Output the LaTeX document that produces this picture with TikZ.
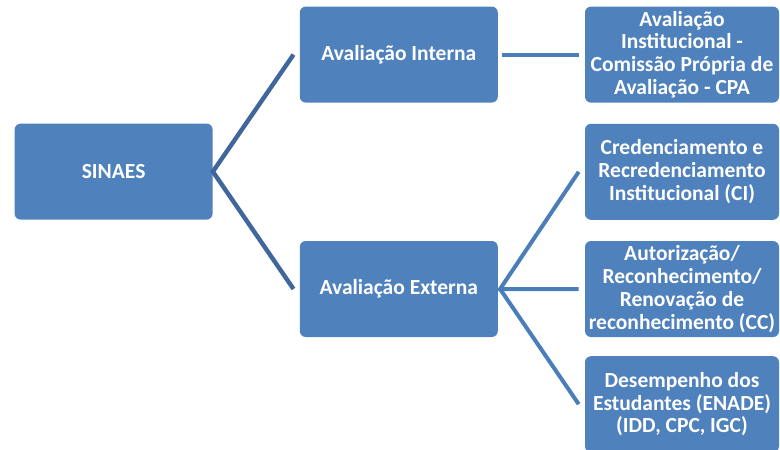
\documentclass[tikz,border=0pt]{standalone}
\usepackage{fontspec}
\setmainfont{Carlito}
\usetikzlibrary{arrows}
\definecolor{boxblue}{HTML}{4F81BD}
\definecolor{trunkblue}{HTML}{3F679B}
\definecolor{branchblue}{HTML}{4A7EBB}
\tikzstyle{mainbox} = [rectangle, rounded corners=0.15cm, minimum width=4.95cm, minimum height=2.4cm, text centered, align=center, fill=boxblue, text=white, inner sep=0pt, font=\bfseries\fontsize{15.3}{16.2}\selectfont]
\tikzstyle{leafbox} = [mainbox, minimum width=4.85cm]
\tikzstyle{trunk} = [line width=0.11cm, draw=trunkblue]
\tikzstyle{branch} = [line width=0.1cm, draw=branchblue]
\begin{document}
\begin{tikzpicture}[node distance=2.93cm]
\useasboundingbox (0,0) rectangle (19.5,-11.25);

\node [mainbox] (sinaes) at (2.84,-4.29) {SINAES};
\node [mainbox, right of=sinaes, xshift=4.2cm, yshift=2.925cm] (interna) {Avaliação Interna};
\node [mainbox, below of=interna, yshift=-2.93cm] (externa) {Avaliação Externa};
\node [leafbox, right of=interna, xshift=4.15cm] (cpa) {Avaliação\\Institucional -\\Comissão Própria de\\Avaliação - CPA};
\node [leafbox, below of=cpa] (ci) {Credenciamento e\\Recredenciamento\\Institucional (CI)};
\node [leafbox, below of=ci] (cc) {Autorização/\\Reconhecimento/\\Renovação de\\reconhecimento (CC)};
\node [leafbox, below of=cc, yshift=0.05cm] (enade) {Desempenho dos\\Estudantes (ENADE)\\(IDD, CPC, IGC)};

\draw [trunk] ([xshift=-0.15cm]interna.west) -- (sinaes.east) -- ([xshift=-0.15cm]externa.west);
\draw [branch] ([xshift=0.1cm]interna.east) -- ([xshift=-0.15cm]cpa.west);
\draw [branch] ([xshift=-0.15cm]ci.west) -- ([xshift=0.05cm]externa.east) -- ([xshift=-0.15cm]cc.west);
\draw [branch] ([xshift=0.05cm]externa.east) -- ([xshift=-0.15cm]enade.west);

\end{tikzpicture}
\end{document}
